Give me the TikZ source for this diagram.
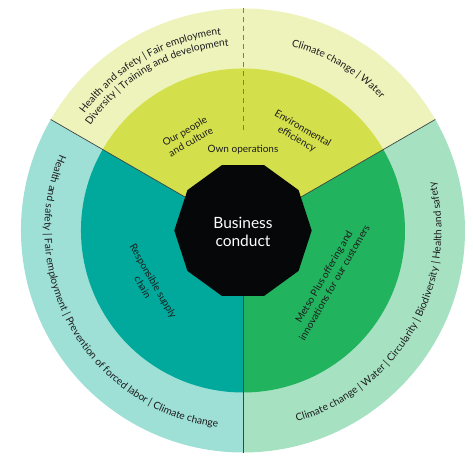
\documentclass[tikz,border=0pt]{standalone}
\usepackage{fontspec}
\setmainfont{Lato}
\usetikzlibrary{decorations.text}
\definecolor{outerTop}{HTML}{EEF3BC}
\definecolor{innerTop}{HTML}{D3E04C}
\definecolor{outerLeft}{HTML}{9EDFD6}
\definecolor{innerLeft}{HTML}{00A99B}
\definecolor{outerRight}{HTML}{A6E2C2}
\definecolor{innerRight}{HTML}{22B35E}
\definecolor{coreBlack}{HTML}{050708}
\definecolor{labelInk}{HTML}{1C1C1C}
\definecolor{dividerInk}{HTML}{3C4640}
\definecolor{dashInk}{HTML}{7F8050}
\newcommand\ringfont{\color{labelInk}\fontsize{10.2}{12}\selectfont}
\begin{document}
\begin{tikzpicture}[x=1pt,y=1pt,
  divline/.style={draw=dividerInk, line width=0.7pt},
  dashline/.style={draw=dashInk, line width=0.8pt, dash pattern=on 5pt off 4pt},
  innerlabel/.style={text=labelInk, font=\fontsize{10}{12}\selectfont, align=center, inner sep=0pt},
  corelabel/.style={text=white, font=\fontsize{15.5}{18.7}\selectfont, align=center, inner sep=0pt},
  ringtext/.style={decorate, decoration={text along path, text format delimiters={[}{]}, text align=center, text={[\ringfont]#1}}}
]
\useasboundingbox (-243,-229.5) rectangle (230,230.5);
% outer ring
\fill[outerTop] (0,0) -- (30:222pt) arc[start angle=30, end angle=150, radius=222pt] -- cycle;
\fill[outerLeft] (0,0) -- (150:222pt) arc[start angle=150, end angle=270, radius=222pt] -- cycle;
\fill[outerRight] (0,0) -- (270:222pt) arc[start angle=270, end angle=390, radius=222pt] -- cycle;
% inner ring
\fill[innerTop] (0,0) -- (30:162pt) arc[start angle=30, end angle=150, radius=162pt] -- cycle;
\fill[innerLeft] (0,0) -- (150:162pt) arc[start angle=150, end angle=270, radius=162pt] -- cycle;
\fill[innerRight] (0,0) -- (270:162pt) arc[start angle=270, end angle=390, radius=162pt] -- cycle;
% dividers
\draw[divline] (150:60pt) -- (150:222pt);
\draw[divline] (30:60pt) -- (30:222pt);
\draw[divline] (270:60pt) -- (270:222pt);
\draw[dashline] (90:222pt) -- (90:97.5pt);
% core decagon
\fill[coreBlack] (0:68.7pt) -- (36:68.7pt) -- (72:68.7pt) -- (108:68.7pt) -- (144:68.7pt) -- (180:68.7pt) -- (216:68.7pt) -- (252:68.7pt) -- (288:68.7pt) -- (324:68.7pt) -- cycle;
\node[corelabel] (core) at (0,-1.5) {Business\\conduct};
% inner labels
\node[innerlabel, rotate=30] (people) at (120.5:109pt) {Our people\\and culture};
\node[innerlabel, rotate=-30] (env) at (59.6:112pt) {Environmental\\efficiency};
\node[innerlabel] (own) at (0,81) {Own operations};
\node[innerlabel, rotate=-60] (supply) at (209.5:109pt) {Responsible supply\\chain};
\node[innerlabel, rotate=60] (metso) at (330.3:99pt) {Metso Plus offering and\\innovations for our customers};
% outer ring texts
\path[ringtext={Health and safety | Fair employment}] (150:197pt) arc[start angle=150, end angle=90, radius=197pt];
\path[ringtext={Diversity | Training and development}] (150:185pt) arc[start angle=150, end angle=90, radius=185pt];
\path[ringtext={Climate change | Water}] (89:190.5pt) arc[start angle=89, end angle=30, radius=190.5pt];
\path[ringtext={Health and safety | Fair employment | Prevention of forced labor | Climate change}] (150:198.5pt) arc[start angle=150, end angle=270, radius=198.5pt];
\path[ringtext={Climate change | Water | Circularity | Biodiversity | Health and safety}] (270:198.5pt) arc[start angle=270, end angle=390, radius=198.5pt];
\end{tikzpicture}
\end{document}
